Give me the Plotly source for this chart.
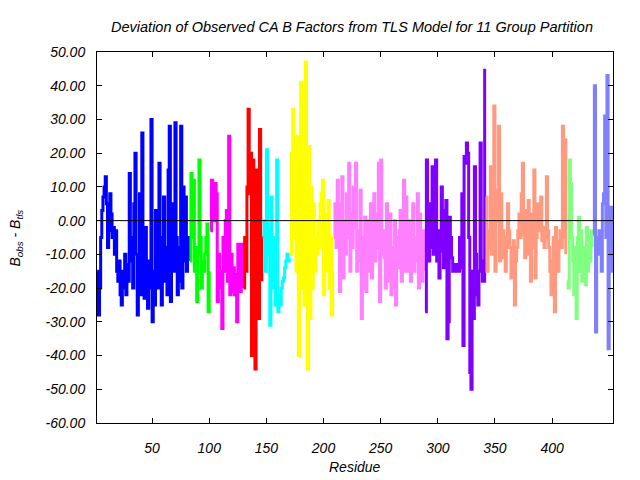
import plotly.graph_objects as go

# ---- data: B_obs - B_tls per residue, one list per TLS group ----
group_colors = ["#0000ff", "#00ff00", "#ff00ff", "#ff0000", "#00ffff", "#ffff00",
                "#ff80ff", "#8000ff", "#ff9980", "#80ff80", "#8080ff"]
group_starts = [2, 83, 101, 130, 147, 171, 209, 289, 342, 413, 436]

g1 = [-15, -28, -20, -5, 3, 7, 10, 13, 5, -8, -3, 8, 2, -5, -2, -10, -3, -15, -18, -12,
      -22, -25, -15, -20, -10, -22, -13, -18, 14, -5, -12, -20, 5, 20, -10, -28, -18, 8, -22, 26,
      -5, -23, -2, -15, -26, -12, -20, 30, -30, -15, -25, 3, -8, -20, 17, -5, -25, -10, 7, -18,
      -8, -22, 15, 28, -24, 5, -12, -15, 29, -5, -22, -8, -18, 28, -20, 10, -12, 7, -15, -5, -12]
g2 = [-12, 14, -5, 12, -15, -8, -24, -10, 18, -5, -20, -12, -15, -10, -5, -1, -27, -15]
g3 = [-3, 12, 5, 0, 11, 8, -24, -10, -20, -15, -32, -5, -15, 0, 3, -18, 25, -22, -10, -21,
      -14, -22, -16, -30, -7, -12, -21, -7, -20]
g4 = [-20, -5, -15, 10, 33, 8, 20, -40, 18, 10, -44, 15, -12, -29, 27, -5, -18]
g5 = [-5, 0, -15, 21, -10, -3, -31, 7, -20, -5, -10, -25, 18, -27, -22, -25, -20, -18, -17,
      -14, -12, -10, -12, -11]
g6 = [-10, 20, 33, -5, 10, -15, 25, -40, 5, 41, -20, 15, -25, 47, 0, -44, 22, -29, 10, -20,
      5, -15, -5, -10, 0, -8, 5, 8, 12, -22, 2, -15, -10, 6, -20, -5, -28, -15]
g7 = [-5, 5, -8, 12, -3, -21, 5, 13, -17, 0, -10, 8, -5, 17, -15, 2, -8, 10, -2, 17,
      -15, -3, -12, 9, -29, -20, -5, 1, -21, -2, 0, -15, 5, -17, -5, 8, -12, 2, -8, 17,
      -24, 18, -10, -3, -11, -20, 5, -5, -18, 2, -22, -8, -20, 0, -25, -5, -14, -3, 3, -18,
      -10, 12, -15, 7, -5, -15, 0, -18, -8, 5, -15, -5, -12, 8, -20, 2, -5, -18, -3, -15]
g8 = [-27, 18, -5, -12, 5, -8, 16, -10, 5, 18, -12, -3, -17, -5, 10, -9, -14, 3, 6, -35,
      -30, 1, -5, -11, -15, -13, -14, -15, -13, -15, -5, -14, 8, -37, 19, 17, 23, 20, -5, -45,
      -50, -15, -29, 16, -10, -22, -25, -15, 23, -12, -18, -18, 45]
g9 = [7, -15, -8, -3, 16, -10, -5, 34, -15, 0, 9, 28, -12, 8, -11, -3, -5, -15, -8, 5,
      -3, -8, -17, -10, -6, -25, -12, -8, -3, 2, -5, 8, 17, -4, -11, 3, -10, 6, -2, -18,
      2, -8, 15, -17, -5, 5, -3, 2, 7, -6, -2, -8, -5, 13, -3, -8, -15, -22, -12, -5,
      -27, -2, -10, -15, -6, -3, -8, 28, -5, 24, -10]
g10 = [-18, -20, 18, 11, -5, -12, -22, -8, -29, -5, 1, -15, -3, -18, -8, -12, -19, -2, -15,
       -5, -12, -3, -8]
g11 = [-4, 40, -33, -5, -10, -3, -8, -15, 5, 8, 31, -5, 43, -38, 4, -15, 4, -10]

groups = [g1, g2, g3, g4, g5, g6, g7, g8, g9, g10, g11]

y_tick_vals = [-60, -50, -40, -30, -20, -10, 0, 10, 20, 30, 40, 50]
y_tick_text = ["-60.00", "-50.00", "-40.00", "-30.00", "-20.00", "-10.00", "0.00",
               "10.00", "20.00", "30.00", "40.00", "50.00"]
x_tick_vals = [50, 100, 150, 200, 250, 300, 350, 400]

FONT = "Liberation Sans"
tfont = dict(family=FONT, size=14, color="black", style="italic")

fig = go.Figure()
for start, vals, col in zip(group_starts, groups, group_colors):
    xs = list(range(start, start + len(vals)))
    fig.add_trace(go.Scatter(x=xs, y=vals, mode="lines",
                             line=dict(color=col, width=3, shape="hv"),
                             showlegend=False, hoverinfo="skip"))

fig.add_shape(type="line", xref="paper", x0=0, x1=1, yref="y", y0=0, y1=0,
              line=dict(color="black", width=1))

axis_common = dict(showgrid=False, zeroline=False, showline=True, linecolor="black",
                   linewidth=1, mirror="ticks", ticks="inside", ticklen=5,
                   tickcolor="black", automargin=False, tickfont=tfont)

fig.update_xaxes(range=[1.8, 453.3], tickvals=x_tick_vals, ticklabelstandoff=12, **axis_common)
fig.update_yaxes(range=[-60, 50], tickvals=y_tick_vals, ticktext=y_tick_text,
                 ticklabelstandoff=8, **axis_common)

# axis titles
fig.add_annotation(text="Residue", xref="paper", yref="paper", x=0.5, y=-0.1186,
                   xanchor="center", yanchor="middle", showarrow=False, font=tfont)
fig.add_annotation(text="B<sub>obs</sub> - B<sub>tls</sub>", xref="paper", yref="paper",
                   x=-0.157, y=0.5, xanchor="center", yanchor="middle", textangle=-90,
                   showarrow=False, font=tfont)

fig.update_layout(
    width=632, height=472,
    paper_bgcolor="white", plot_bgcolor="white",
    margin=dict(l=89, r=27, t=44, b=57),
    title=dict(text="Deviation of Observed CA B Factors from TLS Model for 11 Group Partition",
               x=344 / 632, xanchor="center", y=1 - 19 / 472, yanchor="middle",
               font=dict(family=FONT, size=14.5, color="black", style="italic")),
)

fig.write_html("out.html")
